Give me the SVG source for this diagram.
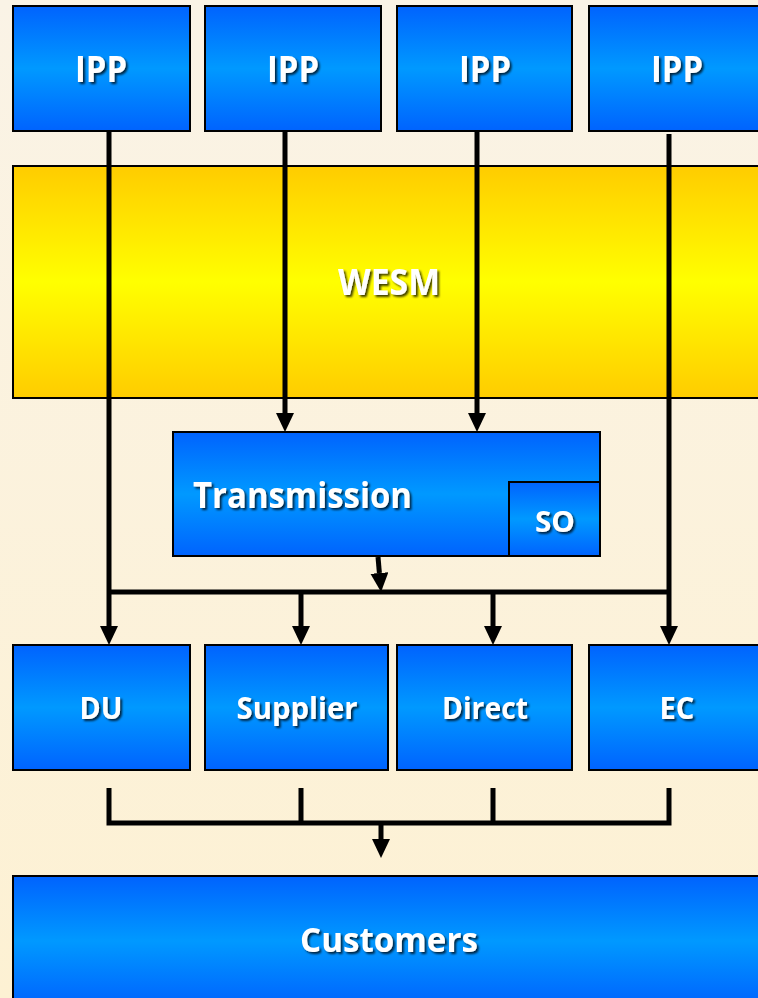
<svg xmlns="http://www.w3.org/2000/svg" width="758" height="998" viewBox="0 0 758 998">
<defs>
<linearGradient id="bg" x1="0" y1="0" x2="0" y2="1">
<stop offset="0" stop-color="#FAF3E6"/>
<stop offset="1" stop-color="#FDF1D3"/>
</linearGradient>
<linearGradient id="blue" x1="0" y1="0" x2="0" y2="1">
<stop offset="0" stop-color="#0063FE"/>
<stop offset="0.5" stop-color="#0099FF"/>
<stop offset="1" stop-color="#0063FE"/>
</linearGradient>
<linearGradient id="yellow" x1="0" y1="0" x2="0" y2="1">
<stop offset="0" stop-color="#FFCC00"/>
<stop offset="0.5" stop-color="#FFFF00"/>
<stop offset="1" stop-color="#FFCC00"/>
</linearGradient>
<filter id="ts" x="-20%" y="-30%" width="140%" height="170%">
<feDropShadow dx="2" dy="2" stdDeviation="0.9" flood-color="#000" flood-opacity="0.75"/>
</filter>
<marker id="ah" viewBox="0 -9 19 18" refX="0" refY="0" markerWidth="19" markerHeight="18" markerUnits="userSpaceOnUse" orient="auto">
<path d="M0,-9 L19,0 L0,9 z" fill="#000"/>
</marker>
</defs>
<style>
.box{fill:url(#blue);stroke:#000;stroke-width:2}
.ybox{fill:url(#yellow);stroke:#000;stroke-width:2}
.lbl{font-family:"Open Sans","Liberation Sans",sans-serif;font-weight:bold;fill:#fff;filter:url(#ts)}
.ln{stroke:#000;stroke-width:5;fill:none}
.arr{stroke:#000;stroke-width:5;fill:none;marker-end:url(#ah)}
</style>
<rect x="0" y="0" width="758" height="998" fill="url(#bg)"/>

<g id="ipp1"><rect class="box" x="13" y="6" width="177" height="125"/><text class="lbl" x="101" y="82" font-size="35" text-anchor="middle" textLength="52" lengthAdjust="spacingAndGlyphs">IPP</text></g>
<g id="ipp2"><rect class="box" x="205" y="6" width="176" height="125"/><text class="lbl" x="293" y="82" font-size="35" text-anchor="middle" textLength="52" lengthAdjust="spacingAndGlyphs">IPP</text></g>
<g id="ipp3"><rect class="box" x="397" y="6" width="175" height="125"/><text class="lbl" x="485" y="82" font-size="35" text-anchor="middle" textLength="52" lengthAdjust="spacingAndGlyphs">IPP</text></g>
<g id="ipp4"><rect class="box" x="589" y="6" width="176" height="125"/><text class="lbl" x="677" y="82" font-size="35" text-anchor="middle" textLength="52" lengthAdjust="spacingAndGlyphs">IPP</text></g>

<g id="wesm"><rect class="ybox" x="13" y="166" width="752" height="232"/><text class="lbl" x="389" y="295" font-size="35" text-anchor="middle" textLength="102" lengthAdjust="spacingAndGlyphs">WESM</text></g>

<g id="transmission"><rect class="box" x="173" y="432" width="427" height="124"/><text class="lbl" x="193" y="508" font-size="35" textLength="219" lengthAdjust="spacingAndGlyphs">Transmission</text></g>
<g id="so"><rect class="box" x="509" y="482" width="91" height="74"/><text class="lbl" x="555" y="532" font-size="29" text-anchor="middle" textLength="40" lengthAdjust="spacingAndGlyphs">SO</text></g>

<g id="du"><rect class="box" x="13" y="645" width="177" height="125"/><text class="lbl" x="101" y="719" font-size="31" text-anchor="middle" textLength="43" lengthAdjust="spacingAndGlyphs">DU</text></g>
<g id="supplier"><rect class="box" x="205" y="645" width="183" height="125"/><text class="lbl" x="297" y="719" font-size="31" text-anchor="middle" textLength="121" lengthAdjust="spacingAndGlyphs">Supplier</text></g>
<g id="direct"><rect class="box" x="397" y="645" width="175" height="125"/><text class="lbl" x="485" y="719" font-size="31" text-anchor="middle" textLength="86" lengthAdjust="spacingAndGlyphs">Direct</text></g>
<g id="ec"><rect class="box" x="589" y="645" width="176" height="125"/><text class="lbl" x="677" y="719" font-size="31" text-anchor="middle" textLength="35" lengthAdjust="spacingAndGlyphs">EC</text></g>

<g id="customers"><rect class="box" x="13" y="876" width="752" height="130"/><text class="lbl" x="389" y="952" font-size="34" text-anchor="middle" textLength="178" lengthAdjust="spacingAndGlyphs">Customers</text></g>

<g id="connectors">
<line class="arr" x1="109" y1="131" x2="109" y2="626"/>
<line class="arr" x1="285" y1="131" x2="285" y2="413"/>
<line class="arr" x1="477" y1="131" x2="477" y2="413"/>
<line class="arr" x1="669" y1="134" x2="669" y2="626"/>
<line class="arr" x1="378" y1="557" x2="379.4" y2="573"/>
<line class="ln" x1="107" y1="592" x2="671" y2="592"/>
<line class="arr" x1="301" y1="592" x2="301" y2="626"/>
<line class="arr" x1="493" y1="592" x2="493" y2="626"/>
<path class="ln" d="M109,788 V823 H669 V788 M301,788 V823 M493,788 V823"/>
<line class="arr" x1="381" y1="823" x2="381" y2="839"/>
</g>
</svg>
